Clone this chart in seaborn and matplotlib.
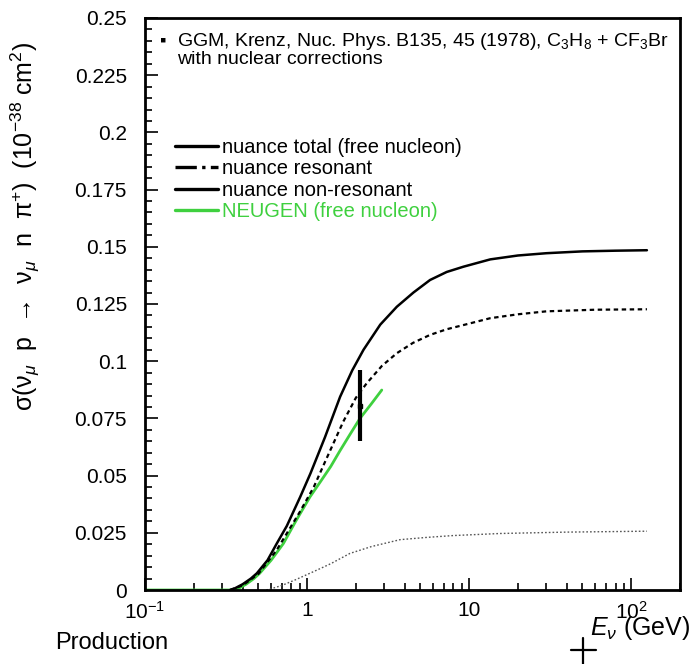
import matplotlib
matplotlib.use("Agg")
import numpy as np
import matplotlib.pyplot as plt
import seaborn as sns
from matplotlib.lines import Line2D
from matplotlib.ticker import MultipleLocator, FixedLocator, NullFormatter

# nuance total (free nucleon)
e_total = [0.335, 0.36, 0.4, 0.45, 0.49, 0.57, 0.65, 0.75, 0.906, 1.05, 1.29, 1.6, 1.9,
           2.23, 2.83, 3.58, 4.53, 5.74, 7.27, 9.22, 13.5, 20, 30, 50, 80, 125]
s_total = [0.0, 0.0008, 0.0025, 0.005, 0.0073, 0.013, 0.0203, 0.028, 0.0406, 0.051, 0.0668,
           0.0845, 0.096, 0.105, 0.116, 0.1238, 0.130, 0.1355, 0.139, 0.1413, 0.1445,
           0.1462, 0.1472, 0.148, 0.1483, 0.1485]

# nuance resonant
e_res = [0.335, 0.4, 0.5, 0.65, 0.9, 1.1, 1.3, 1.67, 2.0, 2.33, 2.9, 3.58, 4.5, 5.74,
         7.3, 9.22, 13.5, 20, 30, 60, 125]
s_res = [0.0, 0.002, 0.007, 0.0175, 0.034, 0.045, 0.0565, 0.0735, 0.084, 0.0903, 0.098,
         0.1035, 0.108, 0.1115, 0.114, 0.1158, 0.1188, 0.1205, 0.1218, 0.1225, 0.1227]

# nuance non-resonant
e_nonres = [0.56, 0.63, 0.7, 0.85, 1.04, 1.2, 1.4, 1.84, 2.5, 3.75, 5.5, 8.0, 15.6, 40, 125]
s_nonres = [0.0, 0.001, 0.002, 0.0045, 0.0073, 0.0093, 0.0115, 0.016, 0.019, 0.022,
            0.023, 0.0238, 0.0247, 0.0253, 0.0257]

# NEUGEN (free nucleon)
e_neugen = [0.1, 0.2, 0.35, 0.38, 0.42, 0.47, 0.51, 0.6, 0.714, 0.85, 1.04, 1.2, 1.4,
            1.6, 1.84, 2.12, 2.5, 2.89]
s_neugen = [0.0, 0.0, 0.0, 0.0008, 0.0025, 0.005, 0.0073, 0.013, 0.0203, 0.030, 0.0406,
            0.047, 0.054, 0.061, 0.068, 0.075, 0.0815, 0.0874]

# GGM data point
e_data = [2.12]
s_data = [0.0805]
s_err = [0.0155]

legend_labels = ["nuance total (free nucleon)", "nuance resonant",
                 "nuance non-resonant", "NEUGEN (free nucleon)"]

green = "#3fd03f"

sns.set_theme(style="white")
plt.rcParams["font.family"] = ["Liberation Sans", "DejaVu Sans"]
plt.rcParams["mathtext.fontset"] = "custom"
plt.rcParams["mathtext.rm"] = "Liberation Sans"
plt.rcParams["mathtext.it"] = "Liberation Sans:italic"
for key in ["text.color", "axes.labelcolor", "xtick.color", "ytick.color"]:
    plt.rcParams[key] = "black"
plt.rcParams["xtick.bottom"] = True
plt.rcParams["ytick.left"] = True

fig = plt.figure(figsize=(6.94, 6.64), dpi=100)
ax = fig.add_axes([145 / 694, 1 - 590 / 664, 535 / 694, 572 / 664])

sns.lineplot(x=e_neugen, y=s_neugen, ax=ax, color=green, lw=2.0, sort=False)
sns.lineplot(x=e_nonres, y=s_nonres, ax=ax, color="#555555", lw=1.0,
             linestyle=(0, (1.2, 1.5)), sort=False)
sns.lineplot(x=e_res, y=s_res, ax=ax, color="black", lw=1.6,
             linestyle=(0, (2, 1.6)), sort=False)
sns.lineplot(x=e_total, y=s_total, ax=ax, color="black", lw=1.8, sort=False)
ax.errorbar(e_data, s_data, yerr=s_err, fmt="s", color="black", ms=3,
            elinewidth=3, capsize=0)

ax.set_xscale("log")
ax.set_xlim(0.1, 200)
ax.set_ylim(0, 0.25)

ax.set_xticks([0.1, 1, 10, 100])
ax.set_xticklabels(["$10^{-1}$", "1", "10", "$10^{2}$"])
minor_x = np.concatenate([np.arange(2, 10) * 10.0 ** k for k in (-1, 0, 1, 2)])
ax.xaxis.set_minor_locator(FixedLocator(minor_x[minor_x <= 200]))
ax.xaxis.set_minor_formatter(NullFormatter())
ax.set_yticks(np.arange(0, 0.2501, 0.025))
ax.set_yticklabels(["0", "0.025", "0.05", "0.075", "0.1", "0.125", "0.15",
                    "0.175", "0.2", "0.225", "0.25"])
ax.yaxis.set_minor_locator(MultipleLocator(0.005))
ax.tick_params(which="both", direction="in", color="black", width=1.2,
               left=True, bottom=True, top=False, right=False, labelsize=15)
ax.tick_params(which="major", length=9)
ax.tick_params(which="minor", length=5)
ax.tick_params(axis="x", pad=8)
ax.tick_params(axis="y", pad=13)
for sp in ax.spines.values():
    sp.set_color("black")
    sp.set_linewidth(2)

ax.set_xlabel("")
ax.set_ylabel("σ(ν$_\\mu$  p  →  ν$_\\mu$  n  π$^{+}$)  (10$^{-38}$ cm$^{2}$)",
              fontsize=18)
ax.yaxis.set_label_coords((42 - 145) / 535, (590 - 226) / 572)

fig.text(690 / 694, 1 - 628 / 664, r"$E_\nu$ (GeV)", fontsize=18,
         ha="right", va="center")
fig.text(55 / 694, 1 - 632 / 664, "Production", fontsize=17,
         ha="left", va="top")
fig.add_artist(Line2D([571 / 694, 596 / 694], [1 - 650 / 664, 1 - 650 / 664],
                      color="black", lw=1.6))
fig.add_artist(Line2D([583 / 694, 583 / 694], [1 - 638 / 664, 0.0],
                      color="black", lw=1.6))

fig.text(163 / 694, 1 - 41 / 664, "\u25aa", fontsize=13, ha="center", va="center")
fig.text(177 / 694, 1 - 42 / 664,
         r"GGM, Krenz, Nuc. Phys. B135, 45 (1978), C$_3$H$_8$ + CF$_3$Br",
         fontsize=14, ha="left", va="center")
fig.text(177 / 694, 1 - 60 / 664, "with nuclear corrections",
         fontsize=14, ha="left", va="center")

handles = [
    Line2D([], [], color="black", lw=2.4),
    Line2D([], [], color="black", lw=2.4, linestyle="-."),
    Line2D([], [], color="black", lw=2.4),
    Line2D([], [], color=green, lw=2.4),
]
leg = ax.legend(handles, legend_labels, loc="upper left",
                bbox_to_anchor=((175 - 145) / 535, (590 - 138) / 572), frameon=False,
                fontsize=14.5, handlelength=2.15, handletextpad=0.2,
                labelspacing=0.12, borderaxespad=0, borderpad=0)
leg.get_texts()[3].set_color(green)

fig.savefig("out.png", dpi=100)
